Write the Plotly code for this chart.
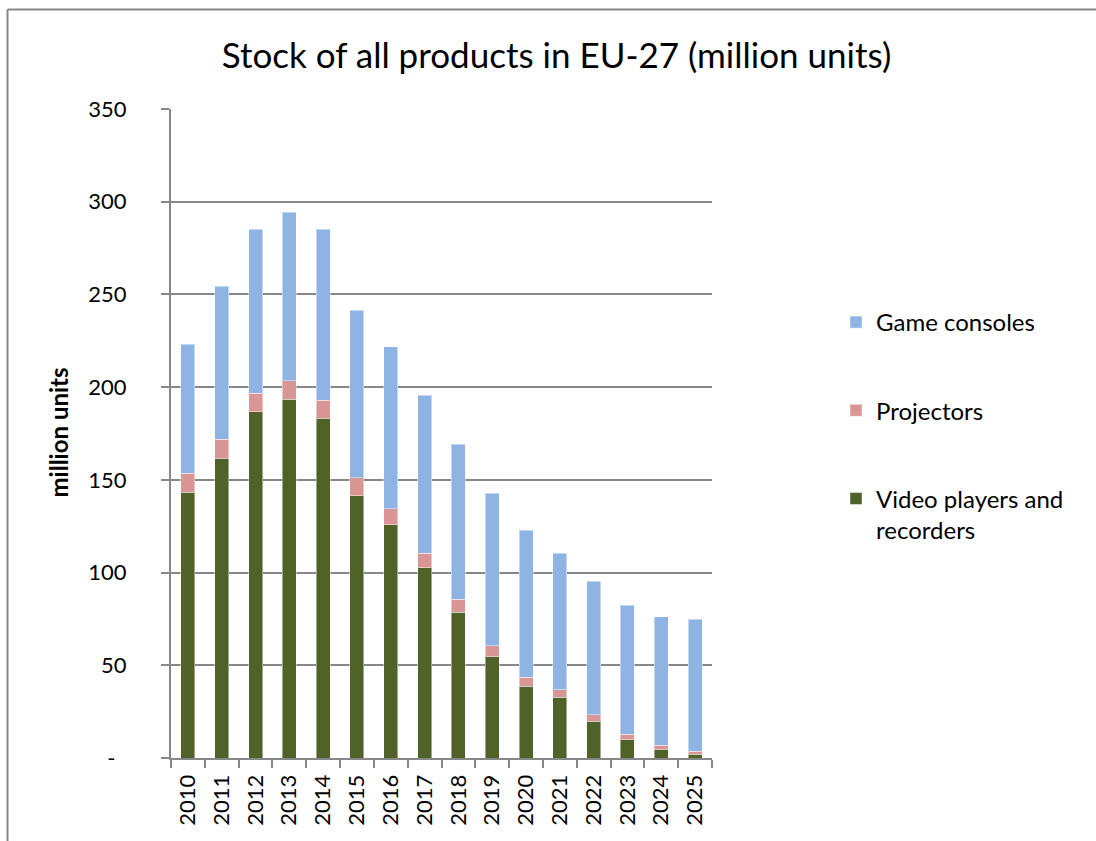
import plotly.graph_objects as go

# Stock of products in EU-27, million units
years = [str(y) for y in range(2010, 2026)]
video_players = [143.2, 161.7, 186.8, 193.6, 183.2, 141.5, 125.8, 102.6,
                 78.7, 54.6, 38.6, 32.7, 19.8, 9.9, 4.7, 2.0]
projectors = [10.4, 10.2, 9.9, 9.9, 9.7, 9.7, 8.6, 7.7,
              6.8, 6.0, 4.9, 4.2, 3.4, 2.9, 2.1, 1.6]
game_consoles = [69.5, 82.5, 88.5, 90.7, 92.2, 90.2, 87.3, 85.3,
                 83.7, 82.2, 79.2, 73.4, 72.2, 69.5, 69.5, 71.1]

y_ticks = [0, 50, 100, 150, 200, 250, 300, 350]
y_tick_text = ["-\u00a0\u00a0", "50", "100", "150", "200", "250", "300", "350"]

FONT = "Lato, 'Open Sans', sans-serif"
GRID = "#878787"

W, H = 1096, 841
L, R, T, B = 171, 384, 109, 83
pw, ph = W - L - R, H - T - B


def px_x(v):
    return (v - L) / pw


def px_y(v):
    return (H - B - v) / ph


fig = go.Figure()
# stacked bottom-to-top; legend lists them top-to-bottom via legendrank
series = [
    ("Video players and<br>recorders", video_players, "#4F6228", 3),
    ("Projectors", projectors, "#D99694", 2),
    ("Game consoles", game_consoles, "#8EB4E3", 1),
]
for name, vals, color, rank in series:
    fig.add_trace(go.Bar(
        x=years, y=vals, name=name, legendgroup=name, legendrank=rank,
        marker=dict(color=color, line=dict(color="rgba(255,255,255,0.45)", width=1)),
    ))

fig.update_layout(
    width=W, height=H,
    margin=dict(l=L, r=R, t=T, b=B),
    barmode="stack", bargap=0.586,
    paper_bgcolor="white", plot_bgcolor="white",
    font=dict(family=FONT, color="black"),
    title=dict(text="Stock of all products in EU-27 (million units)",
               x=556.5 / W, xanchor="center", y=1 - 56 / H, yanchor="middle",
               font=dict(size=35, family=FONT, color="black")),
    legend=dict(traceorder="grouped", tracegroupgap=54,
                x=px_x(836), xanchor="left", y=px_y(300), yanchor="top",
                valign="top", font=dict(size=24, family=FONT, color="black"),
                bgcolor="rgba(0,0,0,0)"),
    showlegend=True,
)

fig.update_xaxes(
    type="category", tickangle=-90, tickson="boundaries",
    ticks="outside", ticklen=8, tickcolor=GRID, tickwidth=2,
    showline=True, linecolor=GRID, linewidth=2,
    showgrid=False, ticklabelstandoff=6,
    tickfont=dict(size=22, family=FONT, color="black"),
)
fig.update_yaxes(
    range=[0, 350], tickvals=y_ticks, ticktext=y_tick_text,
    ticks="outside", ticklen=8, tickcolor=GRID, tickwidth=2,
    showline=True, linecolor=GRID, linewidth=2,
    showgrid=True, gridcolor=GRID, gridwidth=2, zeroline=False,
    ticklabelstandoff=30,
    tickfont=dict(size=22, family=FONT, color="black"),
)

# axis title
fig.add_annotation(text="<b>million units</b>", xref="paper", yref="paper",
                   x=px_x(57.5), y=px_y(433), xanchor="center", yanchor="middle",
                   textangle=-90, showarrow=False,
                   font=dict(size=24, family=FONT, color="black"))

# chart frame (top and left edges)
fig.add_shape(type="line", xref="paper", yref="paper",
              x0=px_x(7.5), x1=px_x(1100), y0=px_y(9.5), y1=px_y(9.5),
              line=dict(color=GRID, width=2))
fig.add_shape(type="line", xref="paper", yref="paper",
              x0=px_x(7.5), x1=px_x(7.5), y0=px_y(9.5), y1=px_y(845),
              line=dict(color=GRID, width=2))

fig.write_html("out.html")
